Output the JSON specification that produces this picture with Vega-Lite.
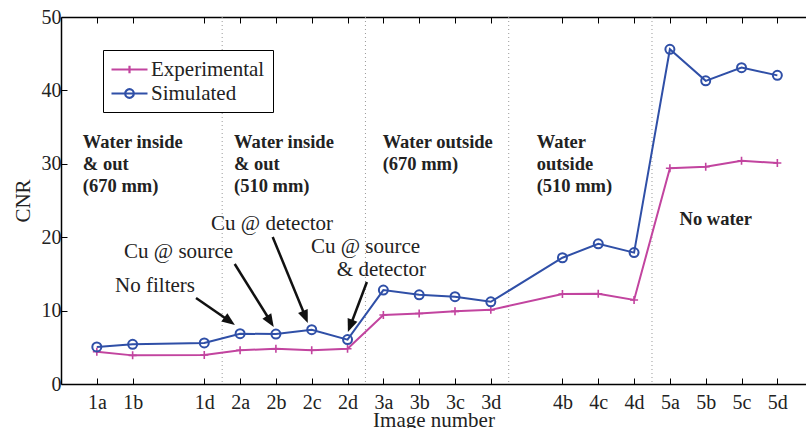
{
  "$schema": "https://vega.github.io/schema/vega-lite/v6.json",
  "width": 745,
  "height": 367,
  "autosize": {"type": "none"},
  "padding": {"left": 61, "top": 17, "right": 0, "bottom": 44},
  "background": "white",
  "config": {
    "view": {"stroke": null},
    "font": "Liberation Serif",
    "axis": {
      "domainColor": "#000000",
      "domainWidth": 1.5,
      "tickColor": "#000000",
      "tickWidth": 1,
      "tickSize": -6,
      "labelColor": "#222222",
      "labelFont": "Liberation Serif",
      "labelFontSize": 20,
      "titleFont": "Liberation Serif",
      "titleFontSize": 21,
      "titleFontWeight": "normal",
      "titleColor": "#222222",
      "grid": false
    }
  },
  "datasets": {
    "cnr": [
      {"img": "1a", "pos": 1, "series": "Experimental", "cnr": 4.4},
      {"img": "1b", "pos": 2, "series": "Experimental", "cnr": 3.9},
      {"img": "1d", "pos": 4, "series": "Experimental", "cnr": 3.95},
      {"img": "2a", "pos": 5, "series": "Experimental", "cnr": 4.6},
      {"img": "2b", "pos": 6, "series": "Experimental", "cnr": 4.8},
      {"img": "2c", "pos": 7, "series": "Experimental", "cnr": 4.6},
      {"img": "2d", "pos": 8, "series": "Experimental", "cnr": 4.8},
      {"img": "3a", "pos": 9, "series": "Experimental", "cnr": 9.4},
      {"img": "3b", "pos": 10, "series": "Experimental", "cnr": 9.6},
      {"img": "3c", "pos": 11, "series": "Experimental", "cnr": 9.9},
      {"img": "3d", "pos": 12, "series": "Experimental", "cnr": 10.1},
      {"img": "4b", "pos": 14, "series": "Experimental", "cnr": 12.25},
      {"img": "4c", "pos": 15, "series": "Experimental", "cnr": 12.3},
      {"img": "4d", "pos": 16, "series": "Experimental", "cnr": 11.45},
      {"img": "5a", "pos": 17, "series": "Experimental", "cnr": 29.4},
      {"img": "5b", "pos": 18, "series": "Experimental", "cnr": 29.6},
      {"img": "5c", "pos": 19, "series": "Experimental", "cnr": 30.4},
      {"img": "5d", "pos": 20, "series": "Experimental", "cnr": 30.1},
      {"img": "1a", "pos": 1, "series": "Simulated", "cnr": 5.05},
      {"img": "1b", "pos": 2, "series": "Simulated", "cnr": 5.4},
      {"img": "1d", "pos": 4, "series": "Simulated", "cnr": 5.6},
      {"img": "2a", "pos": 5, "series": "Simulated", "cnr": 6.85},
      {"img": "2b", "pos": 6, "series": "Simulated", "cnr": 6.8},
      {"img": "2c", "pos": 7, "series": "Simulated", "cnr": 7.4},
      {"img": "2d", "pos": 8, "series": "Simulated", "cnr": 6.05},
      {"img": "3a", "pos": 9, "series": "Simulated", "cnr": 12.8},
      {"img": "3b", "pos": 10, "series": "Simulated", "cnr": 12.15},
      {"img": "3c", "pos": 11, "series": "Simulated", "cnr": 11.9},
      {"img": "3d", "pos": 12, "series": "Simulated", "cnr": 11.2},
      {"img": "4b", "pos": 14, "series": "Simulated", "cnr": 17.2},
      {"img": "4c", "pos": 15, "series": "Simulated", "cnr": 19.1},
      {"img": "4d", "pos": 16, "series": "Simulated", "cnr": 17.9},
      {"img": "5a", "pos": 17, "series": "Simulated", "cnr": 45.6},
      {"img": "5b", "pos": 18, "series": "Simulated", "cnr": 41.3},
      {"img": "5c", "pos": 19, "series": "Simulated", "cnr": 43.1},
      {"img": "5d", "pos": 20, "series": "Simulated", "cnr": 42.05}
    ],
    "separators": [{"x": 4.5}, {"x": 8.5}, {"x": 12.5}, {"x": 16.5}],
    "groups": [
      {"x": 0.61, "y": 32.2, "label": "Water inside\n& out\n(670 mm)"},
      {"x": 4.83, "y": 32.2, "label": "Water inside\n& out\n(510 mm)"},
      {"x": 8.98, "y": 32.2, "label": "Water outside\n(670 mm)"},
      {"x": 13.28, "y": 32.2, "label": "Water\noutside\n(510 mm)"},
      {"x": 17.27, "y": 21.7, "label": "No water"}
    ],
    "notes": [
      {"x": 1.51, "y": 12.53, "label": "No filters"},
      {"x": 1.76, "y": 17.17, "label": "Cu @ source"},
      {"x": 4.19, "y": 20.98, "label": "Cu @ detector"},
      {"x": 6.98, "y": 17.85, "label": "Cu @ source"},
      {"x": 7.7, "y": 14.71, "label": "& detector"}
    ],
    "arrows": [
      {"x": 3.77, "y": 11.72, "x2": 4.63, "y2": 8.83, "tipx": 4.855, "tipy": 8.04, "angle": 125.7},
      {"x": 4.85, "y": 16.35, "x2": 5.8, "y2": 8.92, "tipx": 5.94, "tipy": 7.77, "angle": 147.8},
      {"x": 5.91, "y": 20.03, "x2": 6.79, "y2": 9.58, "tipx": 6.89, "tipy": 8.31, "angle": 157.9},
      {"x": 8.54, "y": 13.9, "x2": 8.11, "y2": 8.35, "tipx": 8.01, "tipy": 7.08, "angle": 200.8}
    ]
  },
  "resolve": {"axis": {"x": "independent"}},
  "layer": [
    {
      "data": {"name": "separators"},
      "mark": {"type": "rule", "color": "#9a9a9a", "strokeWidth": 1, "strokeDash": [1, 3]},
      "encoding": {
        "x": {
          "field": "x", "type": "quantitative",
          "scale": {"domain": [0, 20.8], "nice": false, "zero": false},
          "axis": {"orient": "top", "labels": false, "title": null,
                   "values": [1, 2, 4, 5, 6, 7, 8, 9, 10, 11, 12, 14, 15, 16, 17, 18, 19, 20]}
        }
      }
    },
    {
      "data": {"name": "cnr"},
      "mark": {"type": "line", "strokeWidth": 2},
      "encoding": {
        "x": {
          "field": "pos", "type": "quantitative",
          "scale": {"domain": [0, 20.8], "nice": false, "zero": false},
          "axis": {
            "orient": "bottom",
            "title": "Image number",
            "titlePadding": -3,
            "labelPadding": 14,
            "values": [1, 2, 4, 5, 6, 7, 8, 9, 10, 11, 12, 14, 15, 16, 17, 18, 19, 20],
            "labelExpr": "['','1a','1b','1c','1d','2a','2b','2c','2d','3a','3b','3c','3d','4a','4b','4c','4d','5a','5b','5c','5d'][datum.value]"
          }
        },
        "y": {
          "field": "cnr", "type": "quantitative",
          "scale": {"domain": [0, 50], "nice": false},
          "axis": {"title": "CNR", "values": [0, 10, 20, 30, 40, 50], "labelPadding": 6, "titlePadding": 8}
        },
        "color": {
          "field": "series", "type": "nominal",
          "scale": {"domain": ["Experimental", "Simulated"], "range": ["#c2449f", "#2f4fa7"]}
        }
      }
    },
    {
      "data": {"name": "cnr"},
      "transform": [{"filter": "datum.series === 'Experimental'"}],
      "mark": {"type": "point", "shape": "M-1,0H1M0,-1V1", "size": 64, "strokeWidth": 1.6, "filled": false, "color": "#c2449f", "opacity": 1},
      "encoding": {
        "x": {"field": "pos", "type": "quantitative", "scale": {"domain": [0, 20.8], "nice": false, "zero": false}, "axis": null},
        "y": {"field": "cnr", "type": "quantitative", "scale": {"domain": [0, 50], "nice": false}}
      }
    },
    {
      "data": {"name": "cnr"},
      "transform": [{"filter": "datum.series === 'Simulated'"}],
      "mark": {"type": "point", "shape": "circle", "size": 81, "strokeWidth": 2, "filled": false, "color": "#2f4fa7", "opacity": 1},
      "encoding": {
        "x": {"field": "pos", "type": "quantitative", "scale": {"domain": [0, 20.8], "nice": false, "zero": false}, "axis": null},
        "y": {"field": "cnr", "type": "quantitative", "scale": {"domain": [0, 50], "nice": false}}
      }
    },
    {
      "data": {"values": []},
      "mark": {"type": "point", "filled": false, "opacity": 1},
      "encoding": {
        "color": {
          "field": "series", "type": "nominal",
          "scale": {"domain": ["Experimental", "Simulated"], "range": ["#c2449f", "#2f4fa7"]},
          "legend": {
            "orient": "none", "legendX": 42, "legendY": 33, "title": null,
            "strokeColor": "#000000", "fillColor": "#ffffff", "padding": 8,
            "symbolSize": 400, "symbolStrokeWidth": 2.2, "labelFontSize": 21,
            "labelFont": "Liberation Serif", "labelColor": "#222222", "labelOffset": 17, "rowPadding": 2
          }
        },
        "shape": {
          "field": "series", "type": "nominal",
          "scale": {
            "domain": ["Experimental", "Simulated"],
            "range": ["M-1.1,0H2.5M0.7,-0.38V0.38", "M-1.1,0H2.5M1.13,0A0.43,0.43,0,1,1,0.27,0A0.43,0.43,0,1,1,1.13,0"]
          },
          "legend": {
            "orient": "none", "legendX": 42, "legendY": 33, "title": null,
            "strokeColor": "#000000", "fillColor": "#ffffff", "padding": 8,
            "symbolSize": 400, "symbolStrokeWidth": 2.2, "labelFontSize": 21,
            "labelFont": "Liberation Serif", "labelColor": "#222222", "labelOffset": 17, "rowPadding": 2
          }
        }
      }
    },
    {
      "data": {"name": "groups"},
      "mark": {"type": "text", "align": "left", "baseline": "alphabetic", "fontWeight": "bold", "fontSize": 18.5, "lineBreak": "\n", "lineHeight": 22, "color": "#222222", "font": "Liberation Serif"},
      "encoding": {
        "x": {"field": "x", "type": "quantitative", "scale": {"domain": [0, 20.8], "nice": false, "zero": false}, "axis": null},
        "y": {"field": "y", "type": "quantitative", "scale": {"domain": [0, 50], "nice": false}},
        "text": {"field": "label", "type": "nominal"}
      }
    },
    {
      "data": {"name": "notes"},
      "mark": {"type": "text", "align": "left", "baseline": "alphabetic", "fontSize": 21, "color": "#222222", "font": "Liberation Serif"},
      "encoding": {
        "x": {"field": "x", "type": "quantitative", "scale": {"domain": [0, 20.8], "nice": false, "zero": false}, "axis": null},
        "y": {"field": "y", "type": "quantitative", "scale": {"domain": [0, 50], "nice": false}},
        "text": {"field": "label", "type": "nominal"}
      }
    },
    {
      "data": {"name": "arrows"},
      "mark": {"type": "rule", "color": "#111111", "strokeWidth": 2.5},
      "encoding": {
        "x": {"field": "x", "type": "quantitative", "scale": {"domain": [0, 20.8], "nice": false, "zero": false}, "axis": null},
        "y": {"field": "y", "type": "quantitative", "scale": {"domain": [0, 50], "nice": false}},
        "x2": {"field": "x2"},
        "y2": {"field": "y2"}
      }
    },
    {
      "data": {"name": "arrows"},
      "mark": {"type": "point", "shape": "M0,0L-0.4,1L0.4,1Z", "filled": true, "size": 676, "color": "#111111", "opacity": 1},
      "encoding": {
        "x": {"field": "tipx", "type": "quantitative", "scale": {"domain": [0, 20.8], "nice": false, "zero": false}, "axis": null},
        "y": {"field": "tipy", "type": "quantitative", "scale": {"domain": [0, 50], "nice": false}},
        "angle": {"field": "angle", "type": "quantitative", "scale": null}
      }
    }
  ]
}
